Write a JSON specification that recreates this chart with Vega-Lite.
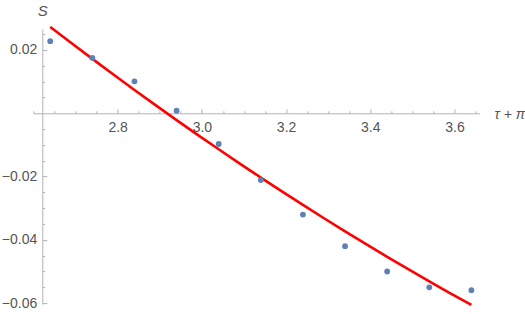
{
  "$schema": "https://vega.github.io/schema/vega-lite/v6.json",
  "width": 446,
  "height": 275,
  "autosize": {"type": "none"},
  "padding": {"left": 33.4, "top": 29.1, "right": 45.6, "bottom": 9.9},
  "background": "white",
  "config": {
    "view": {"stroke": null},
    "axis": {
      "grid": false,
      "domainColor": "#b3b3b3",
      "tickColor": "#b3b3b3",
      "labelColor": "#555555",
      "labelFont": "Liberation Sans",
      "labelFontSize": 14,
      "titleFont": "Liberation Sans",
      "titleFontWeight": "normal",
      "titleColor": "#555555",
      "domainWidth": 1,
      "tickWidth": 1
    }
  },
  "datasets": {
    "pts": [
      {"x": 2.64, "s": 0.0228},
      {"x": 2.74, "s": 0.0175},
      {"x": 2.84, "s": 0.0101},
      {"x": 2.94, "s": 0.0008},
      {"x": 3.04, "s": -0.0097},
      {"x": 3.14, "s": -0.0211},
      {"x": 3.24, "s": -0.0320},
      {"x": 3.34, "s": -0.0420},
      {"x": 3.44, "s": -0.0500},
      {"x": 3.54, "s": -0.0550},
      {"x": 3.64, "s": -0.0559}
    ],
    "fit": [
      {"x": 2.64, "s": 0.02730},
      {"x": 2.69, "s": 0.02221},
      {"x": 2.74, "s": 0.01719},
      {"x": 2.79, "s": 0.01224},
      {"x": 2.84, "s": 0.00737},
      {"x": 2.89, "s": 0.00257},
      {"x": 2.94, "s": -0.00215},
      {"x": 2.99, "s": -0.00681},
      {"x": 3.04, "s": -0.01138},
      {"x": 3.09, "s": -0.01589},
      {"x": 3.14, "s": -0.02032},
      {"x": 3.19, "s": -0.02467},
      {"x": 3.24, "s": -0.02896},
      {"x": 3.29, "s": -0.03317},
      {"x": 3.34, "s": -0.03730},
      {"x": 3.39, "s": -0.04136},
      {"x": 3.44, "s": -0.04535},
      {"x": 3.49, "s": -0.04927},
      {"x": 3.54, "s": -0.05311},
      {"x": 3.59, "s": -0.05688},
      {"x": 3.64, "s": -0.06057}
    ]
  },
  "layer": [
    {
      "data": {"name": "fit"},
      "mark": {"type": "line", "color": "#ff0000", "strokeWidth": 2.6, "clip": false, "interpolate": "monotone"},
      "encoding": {
        "x": {
          "field": "x", "type": "quantitative",
          "scale": {"domain": [2.6, 3.659], "nice": false, "zero": false},
          "axis": {
            "orient": "bottom", "offset": -190.8, "values": [2.6, 2.65, 2.7, 2.75, 2.85, 2.9, 2.95, 3.05, 3.1, 3.15, 3.25, 3.3, 3.35, 3.45, 3.5, 3.55, 3.65],
            "labels": false, "domain": false, "tickSize": -2.5, "title": null
          }
        },
        "y": {
          "field": "s", "type": "quantitative",
          "scale": {"domain": [-0.0603, 0.0266], "nice": false, "zero": false},
          "axis": {
            "orient": "left", "offset": -8.9,
            "values": [-0.055, -0.05, -0.045, -0.035, -0.03, -0.025, -0.015, -0.01, -0.005, 0.005, 0.01, 0.015, 0.025],
            "labels": false, "domain": false, "tickSize": -2.5, "title": null
          }
        }
      }
    },
    {
      "data": {"name": "pts"},
      "mark": {"type": "circle", "color": "#5e81b5", "opacity": 1, "size": 34},
      "encoding": {
        "x": {
          "field": "x", "type": "quantitative",
          "scale": {"domain": [2.6, 3.659], "nice": false, "zero": false},
          "axis": {
            "orient": "bottom", "offset": -190.8, "values": [2.8, 3.0, 3.2, 3.4, 3.6],
            "format": ".1f", "tickSize": -4.5, "labelPadding": 12,
            "title": "τ + π", "titleFontStyle": "italic", "titleFontSize": 14,
            "titleX": 460.6, "titleY": 1.5, "titleAlign": "left", "titleBaseline": "middle", "titleAngle": 0
          }
        },
        "y": {
          "field": "s", "type": "quantitative",
          "scale": {"domain": [-0.0603, 0.0266], "nice": false, "zero": false},
          "axis": {
            "orient": "left", "offset": -8.9, "values": [-0.06, -0.04, -0.02, 0.02],
            "labelExpr": "datum.value < 0 ? '\u2212' + format(-datum.value, '.2f') : format(datum.value, '.2f')",
            "tickSize": -4.5, "labelPadding": 10, "labelBaseline": "middle",
            "title": "S", "titleFontStyle": "italic", "titleFontSize": 15,
            "titleX": 0, "titleY": -19, "titleAlign": "center", "titleBaseline": "middle", "titleAngle": 0
          }
        }
      }
    }
  ],
  "resolve": {"scale": {"x": "independent", "y": "independent"}, "axis": {"x": "independent", "y": "independent"}}
}
